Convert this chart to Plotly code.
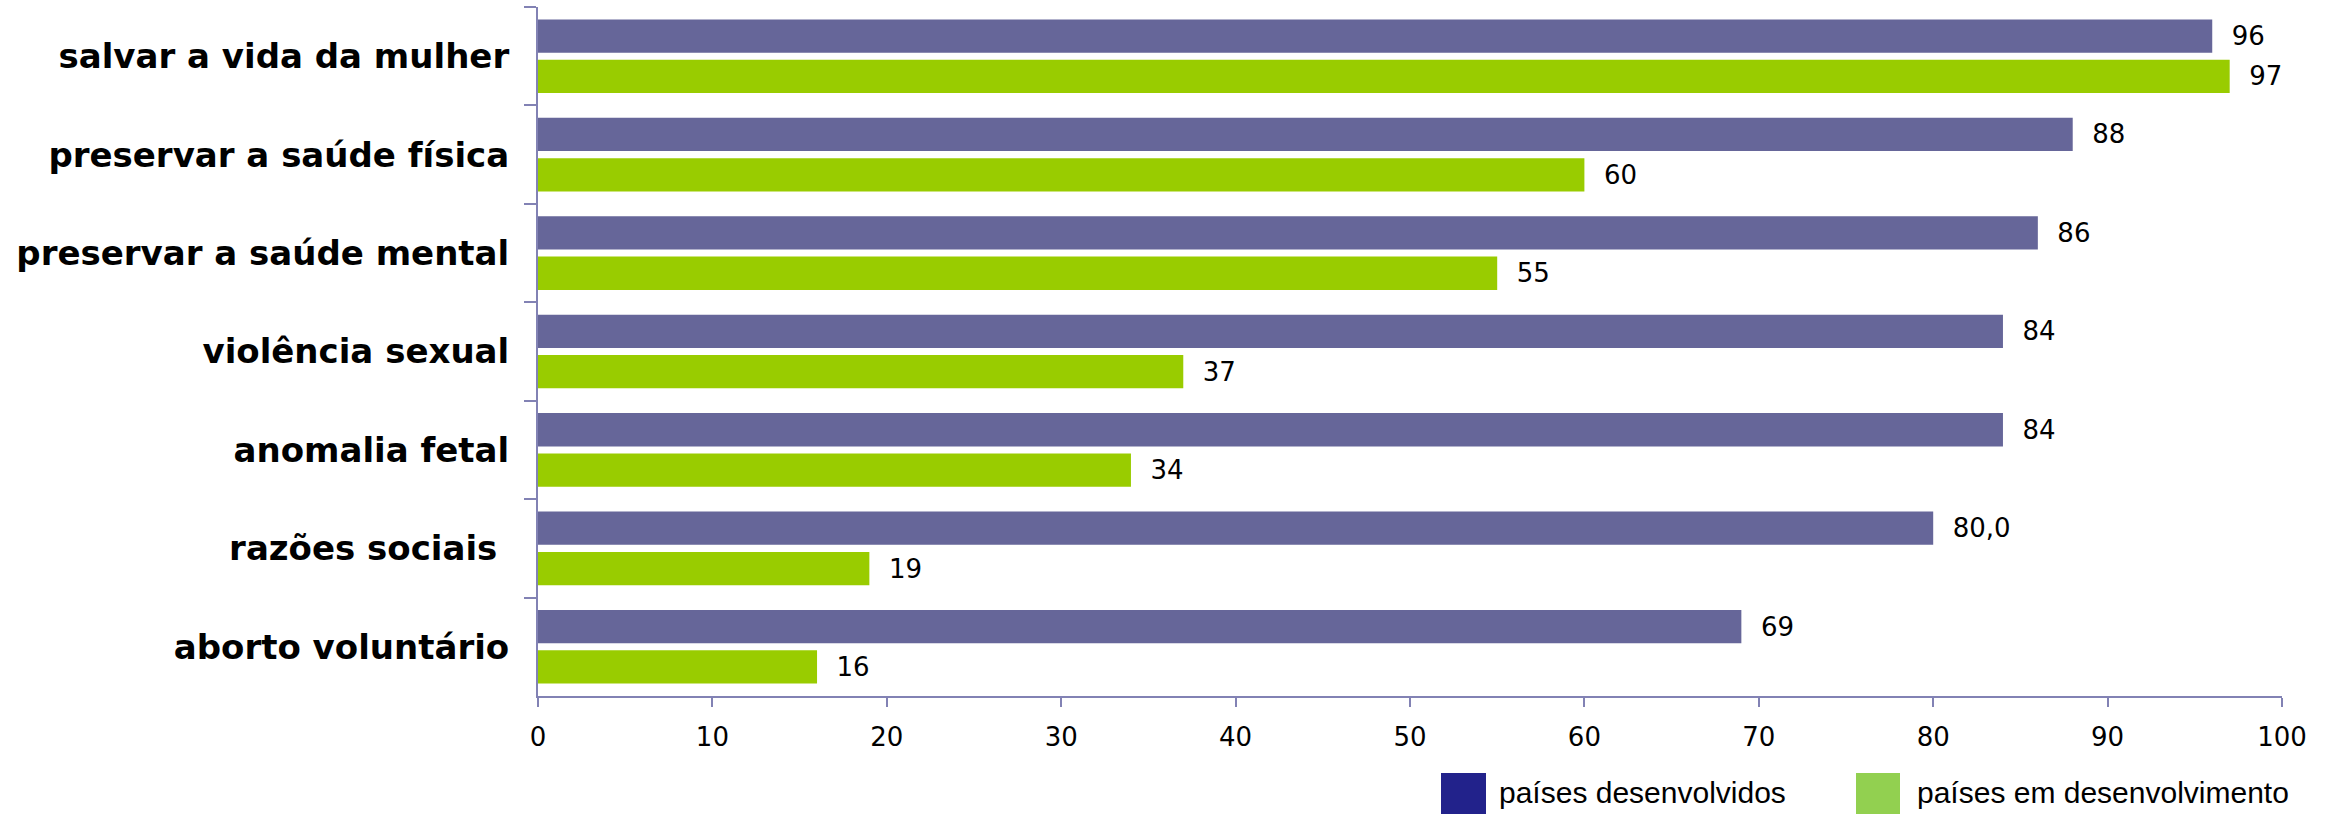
import plotly.graph_objects as go

# Motivos legais para o aborto (% de países)
motivos = [
    "salvar a vida da mulher",
    "preservar a saúde física",
    "preservar a saúde mental",
    "violência sexual",
    "anomalia fetal",
    "razões sociais\u00a0",
    "aborto voluntário",
]
series_names = ["países desenvolvidos", "países em desenvolvimento"]
desenvolvidos = [96, 88, 86, 84, 84, 80, 69]
em_desenvolvimento = [97, 60, 55, 37, 34, 19, 16]
rotulos_desenvolvidos = ["96", "88", "86", "84", "84", "80,0", "69"]
rotulos_em_desenvolvimento = [str(v) for v in em_desenvolvimento]
x_ticks = list(range(0, 101, 10))

W, H = 2341, 814
L, R, T, B = 538, 59, 7, 118
PW, PH = W - L - R, H - T - B

BAR_COLORS = ["#666699", "#99CC00"]
KEY_COLORS = ["#22228B", "#92D050"]
AXIS_COLOR = "#8282B4"


def px_x(p):
    return (p - L) / PW


def px_y(p):
    return (H - B - p) / PH


fig = go.Figure()
for name, vals, labels, color in [
    (series_names[0], desenvolvidos, rotulos_desenvolvidos, BAR_COLORS[0]),
    (series_names[1], em_desenvolvimento, rotulos_em_desenvolvimento, BAR_COLORS[1]),
]:
    fig.add_trace(go.Bar(
        y=motivos, x=vals, orientation="h", name=name,
        marker=dict(color=color, line=dict(width=0)),
        text=labels, texttemplate="\u00a0\u00a0%{text}", textposition="outside",
        textfont=dict(family="DejaVu Sans", size=26, color="#000000"),
        cliponaxis=False, showlegend=False,
    ))

fig.update_layout(
    width=W, height=H,
    margin=dict(l=L, r=R, t=T, b=B, pad=0),
    paper_bgcolor="white", plot_bgcolor="white",
    barmode="group", bargap=0.18, bargroupgap=0.175,
    showlegend=False,
    xaxis=dict(
        range=[0, 100], tickvals=x_ticks, showgrid=False, zeroline=False,
        showline=True, linecolor=AXIS_COLOR, linewidth=2,
        ticks="outside", ticklen=9, tickwidth=2, tickcolor=AXIS_COLOR,
        tickfont=dict(family="DejaVu Sans", size=26, color="#000000"),
        ticklabelstandoff=8,
    ),
    yaxis=dict(
        autorange="reversed", showgrid=False, zeroline=False,
        showline=True, linecolor=AXIS_COLOR, linewidth=2,
        ticks="outside", tickson="boundaries", ticklen=12, tickwidth=2,
        tickcolor=AXIS_COLOR,
        tickfont=dict(family="DejaVu Sans", size=34, color="#000000", weight="bold"),
        ticklabelstandoff=20,
    ),
)

# Legend drawn as coloured keys with captions beneath the axis
key_boxes = [(1441, 1486, 1497), (1856, 1900, 1915)]
for (x0, x1, tx), name, color in zip(key_boxes, series_names, KEY_COLORS):
    fig.add_shape(
        type="rect", xref="paper", yref="paper",
        x0=px_x(x0), x1=px_x(x1), y0=px_y(773), y1=px_y(814),
        fillcolor=color, line=dict(width=0),
    )
    fig.add_annotation(
        xref="paper", yref="paper", x=px_x(tx), y=px_y(792),
        xanchor="left", yanchor="middle", showarrow=False, text=name,
        font=dict(family="Liberation Sans", size=30, color="#000000"),
    )

fig.write_html("out.html")
